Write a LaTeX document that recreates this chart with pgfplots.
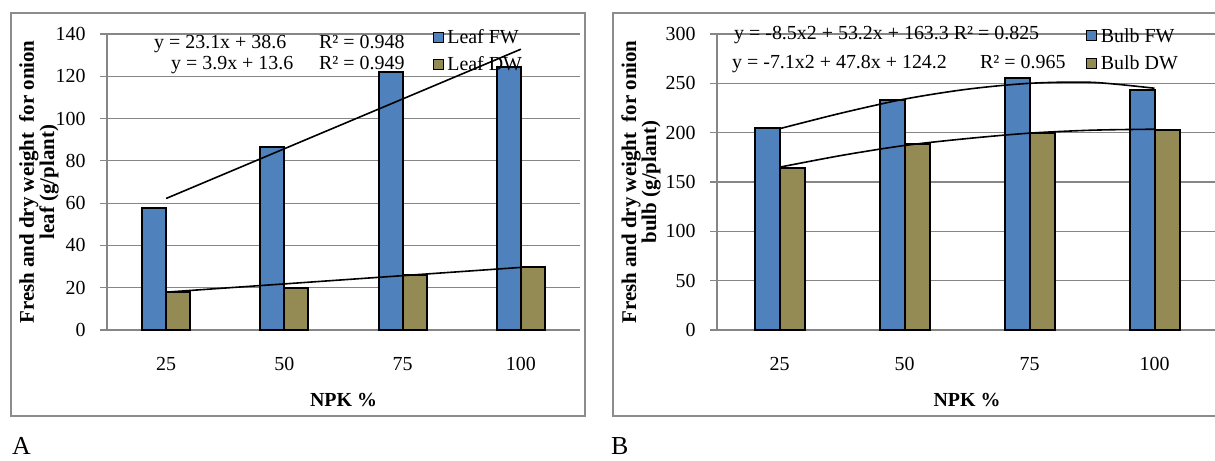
\documentclass[border=0pt]{standalone}
\usepackage{fontspec}
\setmainfont{Liberation Serif}
\usepackage{pgfplots}
\pgfplotsset{compat=1.18}

\definecolor{fwblue}{HTML}{4F81BD}
\definecolor{dwolive}{HTML}{948A54}
\definecolor{gridgray}{HTML}{868686}
\definecolor{framegray}{HTML}{8C8C8C}

\newcommand{\txt}{\fontsize{20}{24}\selectfont}

\pgfplotsset{
  onion/.style={
    scale only axis, height=296bp,
    anchor=south west,
    ybar, bar width=24bp,
    xmin=-0.5, xmax=3.5, ymin=0,
    xtick={0,1,2,3}, xticklabels={25,50,75,100},
    axis x line*=bottom, axis y line*=left,
    axis line style={draw=gridgray, line width=1.5bp, -},
    ymajorgrids, major grid style={draw=gridgray, line width=1.2bp},
    xtick style={draw=none},
    ytick style={draw=gridgray, line width=1.2bp},
    tick align=outside, major tick length=7bp,
    ticklabel style={font=\txt},
    /pgf/number format/assume math mode=true,
    xticklabel style={anchor=center, yshift=-27bp},
    yticklabel style={xshift=-11bp},
    xlabel={NPK \%},
    xlabel style={at={(rel axis cs:0.5,0)}, anchor=center, yshift=-70bp, font=\txt\bfseries},
    legend style={draw=none, fill=none, font=\txt, inner sep=0pt,
      row sep=11bp, nodes={inner sep=0.5bp}},
    legend cell align=left,
    legend image code/.code={\draw[#1, draw=black, line width=1.2bp] (0bp,-5bp) rectangle (10bp,5bp);},
    /tikz/every odd column/.append style={column sep=3bp},
    clip=false,
  },
  fw/.style={fill=fwblue, draw=black, line width=2bp},
  dw/.style={fill=dwolive, draw=black, line width=2bp},
  trend/.style={black, line width=1.6bp, forget plot},
}

\begin{document}
\begin{tikzpicture}[x=1bp, y=1bp]
\useasboundingbox (0,0) rectangle (1215,461);

% panel frames
\draw[framegray, line width=2bp] (11,45) rectangle (585,448);
\draw[framegray, line width=2bp] (613,45) rectangle (1225,448);

% A: leaf
\begin{axis}[onion, at={(107bp,131bp)}, width=473bp,
    ymax=140, ytick={0,20,...,140},
    ylabel={Fresh and dry weight\ \ for onion\\leaf (g/plant)},
    ylabel style={at={([xshift=-68bp]rel axis cs:0,0.5)}, anchor=center,
      align=center, font=\fontsize{21}{19}\selectfont\bfseries},
    legend style={at={(rel axis cs:0.688,1.018)}, anchor=north west},
  ]
  \addplot[fw, bar shift=-12bp] coordinates {(0,57.8) (1,86.4) (2,121.8) (3,124.6)};
  \addplot[dw, bar shift=12bp] coordinates {(0,18.1) (1,19.9) (2,26.1) (3,29.8)};
  \addplot[trend, sharp plot] coordinates {(0,62.2) (3,132.8)};
  \addplot[trend, sharp plot] coordinates {(0,17.9) (3,29.6)};
  \legend{Leaf FW, Leaf DW}
\end{axis}

% B: bulb
\begin{axis}[onion, at={(717bp,131bp)}, width=500bp, bar width=25bp,
    ymax=300, ytick={0,50,...,300},
    ylabel={Fresh and dry weight\ \ for onion\\bulb (g/plant)},
    ylabel style={at={([xshift=-76bp]rel axis cs:0,0.5)}, anchor=center,
      align=center, font=\fontsize{21}{19}\selectfont\bfseries},
    legend style={at={(rel axis cs:0.738,1.022)}, anchor=north west},
  ]
  \addplot[fw, bar shift=-12.5bp] coordinates {(0,205) (1,233) (2,255) (3,243)};
  \addplot[dw, bar shift=12.5bp] coordinates {(0,164) (1,188) (2,200) (3,203)};
  \addplot[trend, smooth] coordinates {(0,204) (0.5,220) (1,234) (1.5,244) (2,250) (2.5,251) (3,245)};
  \addplot[trend, smooth] coordinates {(0,165) (0.5,177) (1,187) (1.5,194) (2,199.5) (2.5,202.5) (3,203.5)};
  \legend{Bulb FW, Bulb DW}
\end{axis}

% trendline equations
\node[anchor=base west, inner sep=0pt, font=\txt] at (154,412) {y = 23.1x + 38.6};
\node[anchor=base west, inner sep=0pt, font=\txt] at (319,412) {R² = 0.948};
\node[anchor=base west, inner sep=0pt, font=\txt] at (171,391) {y = 3.9x + 13.6};
\node[anchor=base west, inner sep=0pt, font=\txt] at (319,391) {R² = 0.949};
\node[anchor=base west, inner sep=0pt, font=\txt] at (734,421) {y = -8.5x2 + 53.2x + 163.3 R² = 0.825};
\node[anchor=base west, inner sep=0pt, font=\txt] at (732,392) {y = -7.1x2 + 47.8x + 124.2};
\node[anchor=base west, inner sep=0pt, font=\txt] at (980,392) {R² = 0.965};

% panel letters
\node[anchor=base west, inner sep=0pt, font=\fontsize{26}{28}\selectfont] at (12,6) {A};
\node[anchor=base west, inner sep=0pt, font=\fontsize{26}{28}\selectfont] at (611,6) {B};
\end{tikzpicture}
\end{document}
